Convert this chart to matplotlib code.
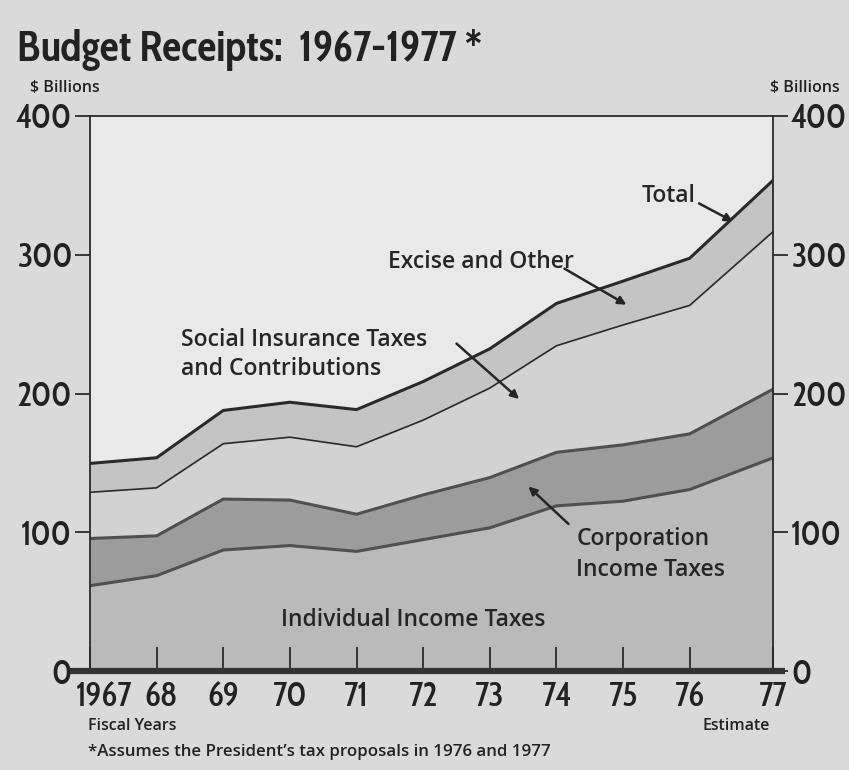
import matplotlib
matplotlib.use("Agg")
import matplotlib.pyplot as plt
import numpy as np
from matplotlib.transforms import blended_transform_factory, ScaledTranslation

# ---- data ($ billions) ----
years = ["1967", "68", "69", "70", "71", "72", "73", "74", "75", "76", "77"]
# fiscal-year positions (1977 set apart by the transition quarter)
year_pos = [0, 1, 2, 3, 4, 5, 6, 7, 8, 9, 10.25]
individual = [61.5, 68.7, 87.2, 90.4, 86.2, 94.7, 103.2, 119.0, 122.4, 130.8, 153.6]
corporation = [34.0, 28.7, 36.7, 32.8, 26.8, 32.2, 36.2, 38.6, 40.6, 40.1, 49.5]
social = [33.3, 34.6, 39.9, 45.3, 48.6, 53.9, 64.5, 76.8, 86.4, 92.6, 113.5]
excise_other = [20.8, 21.7, 24.0, 25.2, 26.8, 27.8, 28.3, 30.5, 31.6, 34.0, 37.0]
yticks = [0, 100, 200, 300, 400]

FONT = ["Cabin Condensed", "Liberation Sans", "DejaVu Sans"]
LABFONT = ["Open Sans", "Liberation Sans", "DejaVu Sans"]
plt.rcParams["font.family"] = FONT

fig = plt.figure(figsize=(8.49, 7.70), dpi=100, facecolor="#dadada")
ax = fig.add_axes([90 / 849, (770 - 671) / 770, (773 - 90) / 849, (671 - 116) / 770])
ax.set_facecolor("#e9e9e9")

x = np.array(year_pos, dtype=float)
l1 = np.array(individual)
l2 = l1 + np.array(corporation)
l3 = l2 + np.array(social)
l4 = l3 + np.array(excise_other)

ax.fill_between(x, 0, l1, color="#bababa", lw=0)
ax.fill_between(x, l1, l2, color="#9c9c9c", lw=0)
ax.fill_between(x, l2, l3, color="#d2d2d2", lw=0)
ax.fill_between(x, l3, l4, color="#c4c4c4", lw=0)
ax.plot(x, l1, color="#505050", lw=2.2, solid_joinstyle="round")
ax.plot(x, l2, color="#505050", lw=2.2, solid_joinstyle="round")
ax.plot(x, l3, color="#2a2a2a", lw=1.2)
ax.plot(x, l4, color="#2a2a2a", lw=2.2)

ax.set_xlim(x[0], x[-1])
ax.set_ylim(0, 400)

for s in ax.spines.values():
    s.set_color("#2a2a2a")
    s.set_linewidth(1.3)
ax.spines["bottom"].set_visible(False)

ax.set_yticks(yticks)
ax.set_yticklabels([str(v) for v in yticks], fontsize=24, fontweight=500)
ax.tick_params(axis="y", which="both", direction="out", length=11, width=1.3,
               color="#2a2a2a", labelcolor="#222222", pad=2,
               left=True, right=True, labelleft=True, labelright=True)
ax.set_xticks(x)
ax.set_xticklabels(years, fontsize=24, fontweight=500)
ax.tick_params(axis="x", direction="in", length=17, width=1.3, color="#2a2a2a",
               labelcolor="#222222", pad=7)
xt = ax.get_xticklabels()
xt[0].set_horizontalalignment("left")
xt[0].set_transform(xt[0].get_transform() + ScaledTranslation(-14 / 100, 0, fig.dpi_scale_trans))
xt[1].set_transform(xt[1].get_transform() + ScaledTranslation(4 / 100, 0, fig.dpi_scale_trans))

# thick baseline extending beyond the plot
tr = blended_transform_factory(ax.transAxes, ax.transData)
ax.plot([-0.029, 1.018], [0, 0], transform=tr, color="#333333", lw=4.5,
        clip_on=False, solid_capstyle="butt", zorder=5)

# annotations
tcol = "#262626"
LW = 600
lab = dict(fontsize=16.5, color=tcol, fontweight=LW, family=LABFONT)
arw = dict(arrowstyle="-|>", color=tcol, lw=1.8, mutation_scale=12, shrinkA=0, shrinkB=0)
ax.text(4.85, 37, "Individual Income Taxes", ha="center", va="center", **lab)
ax.text(7.3, 84, "Corporation\nIncome Taxes", ha="left", va="center",
        linespacing=1.35, **lab)
ax.annotate("", xy=(6.58, 133), xytext=(7.18, 106), arrowprops=arw)
ax.text(1.37, 228, "Social Insurance Taxes\nand Contributions", ha="left",
        va="center", linespacing=1.3, **lab)
ax.annotate("", xy=(6.44, 196), xytext=(5.5, 236), arrowprops=arw)
ax.text(5.87, 295, "Excise and Other", ha="center", va="center", **lab)
ax.annotate("", xy=(8.05, 264), xytext=(7.12, 290), arrowprops=arw)
ax.text(8.69, 342, "Total", ha="center", va="center", **lab)
ax.annotate("", xy=(9.65, 324), xytext=(9.14, 337), arrowprops=arw)

# figure texts
small = dict(fontweight=LW, color="#222222", va="center", family=LABFONT)
fig.text(17 / 849, 1 - 50 / 770, "Budget Receipts:  1967-1977 *", fontsize=30.5,
         fontweight="bold", color="#222222", ha="left", va="center")
fig.text(30 / 849, 1 - 88 / 770, "$ Billions", fontsize=11.5, ha="left", **small)
fig.text(840 / 849, 1 - 88 / 770, "$ Billions", fontsize=11.5, ha="right", **small)
fig.text(88 / 849, 1 - 726 / 770, "Fiscal Years", fontsize=11.5, ha="left", **small)
fig.text(770 / 849, 1 - 726 / 770, "Estimate", fontsize=11.5, ha="right", **small)
fig.text(88 / 849, 1 - 752 / 770,
         "*Assumes the President\u2019s tax proposals in 1976 and 1977",
         fontsize=12.2, ha="left", **small)

fig.savefig("out.png", dpi=100, facecolor=fig.get_facecolor())
